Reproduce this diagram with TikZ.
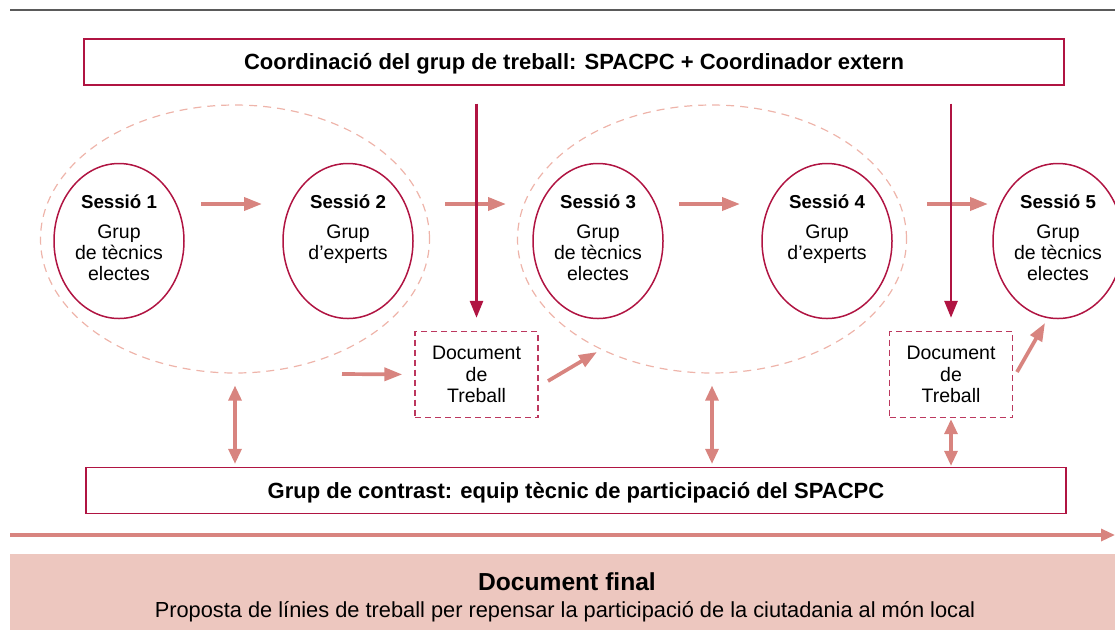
\documentclass[tikz,border=0pt]{standalone}
\usepackage{fontspec}
\setmainfont{Liberation Sans}
\usetikzlibrary{arrows.meta, positioning, shapes.geometric}

\definecolor{crimson}{RGB}{176,20,66}
\definecolor{salmon}{RGB}{216,132,127}
\definecolor{palepink}{RGB}{238,180,170}
\definecolor{bandpink}{RGB}{237,199,191}
\definecolor{rulegray}{RGB}{90,90,90}

\tikzset{
  sessio/.style={draw=crimson, line width=1.5pt, ellipse, minimum width=130pt, minimum height=155pt, inner sep=0pt},
  grup/.style={draw=palepink, line width=1.2pt, dash pattern=on 8pt off 6pt, ellipse, minimum width=389pt, minimum height=268pt, inner sep=0pt},
  titol/.style={font=\fontsize{18.7}{21}\selectfont\bfseries, inner sep=0pt},
  cos/.style={font=\fontsize{19.5}{21}\selectfont, align=center, inner sep=0pt},
  doc/.style={draw=crimson!85!white, line width=1.4pt, dash pattern=on 6pt off 4pt, minimum width=123pt, minimum height=86pt, align=center, inner sep=0pt, font=\fontsize{19.5}{21.5}\selectfont},
  caixa/.style={draw=crimson, line width=1.3pt, minimum width=980pt, minimum height=46pt, inner sep=0pt, text height=15.8pt, text depth=0pt, font=\fontsize{22}{24}\selectfont\bfseries},
  flux/.style={draw=salmon, line width=3.7pt, -{Triangle[length=18pt,width=13pt]}},
  doble/.style={draw=salmon, line width=3.2pt, {Triangle[length=15pt,width=13pt]}-{Triangle[length=15pt,width=13pt]}},
  baixa/.style={draw=crimson, line width=2.8pt, -{Triangle[length=17pt,width=13pt]}}
}

\begin{document}
\begin{tikzpicture}[x=1pt, y=-1pt]
\useasboundingbox (0,0) rectangle (1115,630);
\draw[rulegray, line width=1.5pt] (10,10) -- (1115,10);

% coordinacio and contrast
\node[caixa] (coord) at (574,62) {Coordinació del grup de treball: SPACPC + Coordinador extern};
\node[caixa] (contrast) at (576,490.5) {Grup de contrast: equip tècnic de participació del SPACPC};

% grups de sessions
\node[grup] (g1) at (235,239) {};
\node[grup] (g2) at (712,239) {};

% sessions
\node[sessio] (s1) at (119,241) {};
\node[sessio] (s2) at (348,241) {};
\node[sessio] (s3) at (598,241) {};
\node[sessio] (s4) at (827,241) {};
\node[sessio] (s5) at (1058,241) {};
\foreach \i in {1,...,5}
  \node[titol] (t\i) at ([yshift=39pt]s\i.center) {Sessió \i};
\foreach \i/\txt in {1/{Grup\\de tècnics\\electes}, 2/{Grup\\d’experts}, 3/{Grup\\de tècnics\\electes}, 4/{Grup\\d’experts}, 5/{Grup\\de tècnics\\electes}}
  \node[cos, below=16pt of t\i] (c\i) {\txt};

% documents de treball
\node[doc] (d1) at (476.5,374.5) {Document\\de\\Treball};
\node[doc] (d2) at (951,374.5) {Document\\de\\Treball};

% document final
\node[fill=bandpink, minimum width=1105pt, minimum height=76pt, inner sep=0pt, anchor=north west] (final) at (10,554) {};
\node[font=\fontsize{24.6}{26}\selectfont\bfseries] (ft) at (567,582) {Document final};
\node[font=\fontsize{21.8}{24}\selectfont] (fp) at (565,612) {Proposta de línies de treball per repensar la participació de la ciutadania al món local};

% punts lliures
\coordinate (a12) at (201,204);
\coordinate (b12) at (262,204);
\coordinate (a23) at (445,204);
\coordinate (b23) at (506,204);
\coordinate (a34) at (679,204);
\coordinate (b34) at (740,204);
\coordinate (a45) at (927,204);
\coordinate (b45) at (988,204);
\coordinate (e1) at (342,374);
\coordinate (o1) at (548,381);
\coordinate (i3) at (597,352);
\coordinate (o2) at (1017,372);
\coordinate (i5) at (1045,323);
\coordinate (l0) at (10,535);
\coordinate (l1) at (1115,535);

\draw[flux] (a12) -- (b12);
\draw[flux] (a23) -- (b23);
\draw[flux] (a34) -- (b34);
\draw[flux] (a45) -- (b45);
\draw[flux, shorten >=12pt] (e1) -- (d1.west);
\draw[flux] (o1) -- (i3);
\draw[flux] (o2) -- (i5);

\draw[baixa, shorten <=18pt, shorten >=13pt] (coord.south -| d1.north) -- (d1.north);
\draw[baixa, shorten <=18pt, shorten >=13pt] (coord.south -| d2.north) -- (d2.north);

\draw[doble, shorten <=12pt, shorten >=3pt] (g1.south) -- (g1.south |- contrast.north);
\draw[doble, shorten <=12pt, shorten >=3pt] (g2.south) -- (g2.south |- contrast.north);
\draw[doble, shorten <=1pt, shorten >=1pt] (d2.south) -- (d2.south |- contrast.north);

\draw[salmon, line width=3.2pt, -{Triangle[length=14pt,width=12pt]}] (l0) -- (l1);
\end{tikzpicture}
\end{document}
